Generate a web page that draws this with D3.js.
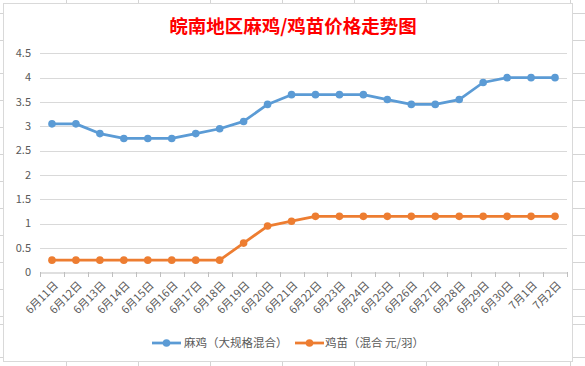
<!DOCTYPE html>
<html><head><meta charset="utf-8">
<script src="https://cdn.jsdelivr.net/npm/d3@7"></script>
<style>body{margin:0;background:#fff}svg{display:block}</style>
</head><body>
<svg id="c" width="585" height="366"></svg>
<script>
const categories = ["6月11日","6月12日","6月13日","6月14日","6月15日","6月16日","6月17日","6月18日","6月19日","6月20日","6月21日","6月22日","6月23日","6月24日","6月25日","6月26日","6月27日","6月28日","6月29日","6月30日","7月1日","7月2日"];
const seriesMaji = [3.05,3.05,2.85,2.75,2.75,2.75,2.85,2.95,3.1,3.45,3.65,3.65,3.65,3.65,3.55,3.45,3.45,3.55,3.9,4.0,4.0,4.0];
const seriesJimiao = [0.25,0.25,0.25,0.25,0.25,0.25,0.25,0.25,0.6,0.95,1.05,1.15,1.15,1.15,1.15,1.15,1.15,1.15,1.15,1.15,1.15,1.15];
const yTicks = [0,0.5,1,1.5,2,2.5,3,3.5,4,4.5];
const seriesNames = ["麻鸡（大规格混合）","鸡苗（混合 元/羽）"];
const colors = ["#5B9BD5","#ED7D31"];
const title = "皖南地区麻鸡/鸡苗价格走势图";

const svg = d3.select("#c");
const font = "'Noto Sans CJK SC', 'Noto Sans', sans-serif";

// Excel sheet grid outside chart
const sheet = svg.append("g").attr("stroke","#D4D4D4").attr("stroke-width",1);
[66,138,210,282,354,426,498,570].forEach(x=>sheet.append("line").attr("x1",x+0.5).attr("x2",x+0.5).attr("y1",0).attr("y2",366));
[13,40,73,100,127,154,181,208,235,262,289,316,324,357].forEach(y=>sheet.append("line").attr("x1",0).attr("x2",585).attr("y1",y+0.5).attr("y2",y+0.5));
// chart area
svg.append("rect").attr("x",3.5).attr("y",3.5).attr("width",569).attr("height",358)
  .attr("fill","#fff").attr("stroke","#D9D9D9");

const x = d3.scaleBand().domain(categories).range([40,567]);
const y = d3.scaleLinear().domain([0,4.5]).range([272.3,53.3]);

// gridlines
svg.append("g").selectAll("line").data(yTicks.filter(d=>d>0)).join("line")
  .attr("x1",40).attr("x2",567).attr("y1",d=>Math.round(y(d))+0.5).attr("y2",d=>Math.round(y(d))+0.5)
  .attr("stroke","#D9D9D9").attr("stroke-width",1);

// y labels
svg.append("g").selectAll("text").data(yTicks).join("text")
  .attr("x",31).attr("y",d=>y(d)).attr("dy","0.35em").attr("text-anchor","end")
  .attr("font-family",font).attr("font-size",11).attr("fill","#595959")
  .text(d=>d);

// x axis
const xAxis = d3.axisBottom(x).tickSize(0).tickFormat("");
const ax = svg.append("g").attr("transform",`translate(0,${Math.round(y(0))+0.5})`).call(xAxis);
ax.select(".domain").attr("stroke","#BFBFBF");
const bounds = categories.map(c=>x(c)).concat([x.range()[1]]);
svg.append("g").selectAll("line").data(bounds).join("line")
  .attr("x1",d=>Math.round(d)+0.5).attr("x2",d=>Math.round(d)+0.5)
  .attr("y1",Math.round(y(0))).attr("y2",Math.round(y(0))+5)
  .attr("stroke","#BFBFBF");

svg.append("g").selectAll("text").data(categories).join("text")
  .attr("transform",d=>`translate(${x(d)+x.bandwidth()/2+4},${y(0)+11}) rotate(-45)`)
  .attr("text-anchor","end").attr("dy","0.35em")
  .attr("font-family",font).attr("font-size",11).attr("fill","#595959")
  .text(d=>d);

// lines
[seriesMaji, seriesJimiao].forEach((s,i)=>{
  const line = d3.line().x((d,j)=>x(categories[j])+x.bandwidth()/2).y(d=>y(d));
  svg.append("path").datum(s).attr("d",line).attr("fill","none")
    .attr("stroke",colors[i]).attr("stroke-width",2.75).attr("stroke-linejoin","round").attr("stroke-linecap","round");
  svg.append("g").selectAll("circle").data(s).join("circle")
    .attr("cx",(d,j)=>x(categories[j])+x.bandwidth()/2).attr("cy",d=>y(d)).attr("r",3.8)
    .attr("fill",colors[i]);
});

// title
svg.append("text").attr("x",293).attr("y",27).attr("dy","0.35em").attr("text-anchor","middle")
  .attr("font-family",font).attr("font-size",18.5).attr("font-weight","bold").attr("fill","#FF0000")
  .text(title);

// legend
const leg = [{x0:152, tx:184},{x0:295, tx:325}];
seriesNames.forEach((n,i)=>{
  const g = svg.append("g");
  g.append("line").attr("x1",leg[i].x0).attr("x2",leg[i].x0+29).attr("y1",343).attr("y2",343)
    .attr("stroke",colors[i]).attr("stroke-width",2.75);
  g.append("circle").attr("cx",leg[i].x0+14.5).attr("cy",343).attr("r",3.8).attr("fill",colors[i]);
  g.append("text").attr("x",leg[i].tx).attr("y",343).attr("dy","0.35em")
    .attr("font-family",font).attr("font-size",11.5).attr("fill","#595959").text(n);
});
</script>
</body></html>
